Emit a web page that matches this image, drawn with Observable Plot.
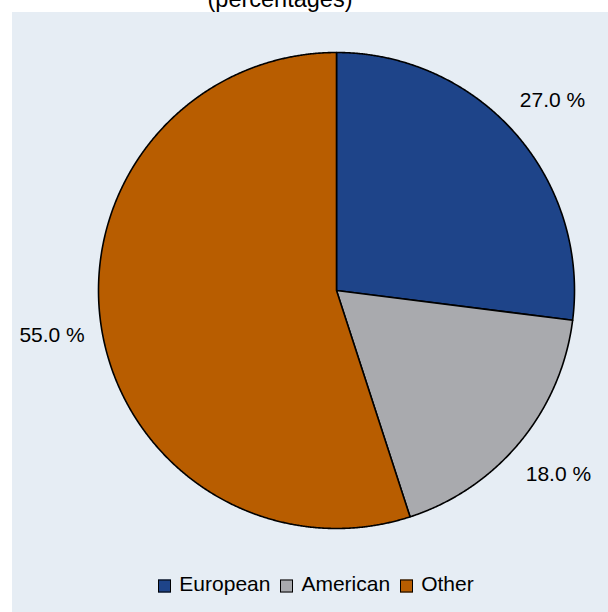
<!DOCTYPE html>
<html>
<head>
<meta charset="utf-8">
<script src="https://cdn.jsdelivr.net/npm/d3@7"></script>
<script src="https://cdn.jsdelivr.net/npm/@observablehq/plot@0.6"></script>
<style>
  html, body { margin: 0; padding: 0; background: #ffffff; }
  body { width: 608px; height: 612px; overflow: hidden; font-family: "Liberation Sans", Arial, sans-serif; }
  #title { position: relative; height: 12px; overflow: hidden; }
  #title span { position: absolute; left: 0; width: 560px; top: -13px; text-align: center; font-size: 23.5px; line-height: 24px; color: #000; white-space: nowrap; }
  #panel { margin-left: 12px; width: 596px; height: 600px; background: #e6edf4; }
  #legend { display: flex; align-items: center; justify-content: center; padding-left: 12px; height: 24px; line-height: 24px; font-size: 21px; color: #000; }
  .sw { width: 13px; height: 13px; box-sizing: border-box; border: 1.6px solid #000; margin-right: 8px; transform: translateY(1.5px); }
  .lab { margin-right: 10px; }
  .lab:last-child { margin-right: 0; }
</style>
</head>
<body>
<div id="title"><span>(percentages)</span></div>
<div id="panel"><div id="chart"></div><div id="legend"></div></div>
<script>
const categories = ["European", "American", "Other"];
const values = [27.0, 18.0, 55.0];
const colors = ["#1e4489", "#a9aaae", "#b85d00"];
const labels = values.map(v => v.toFixed(1) + " %");

const total = d3.sum(values);
const slicePoints = [];
const labelRows = [];
let acc = 0;
categories.forEach((name, i) => {
  const a0 = acc / total * 2 * Math.PI;
  acc += values[i];
  const a1 = acc / total * 2 * Math.PI;
  slicePoints.push({name, x: 0, y: 0});
  const n = Math.max(2, Math.ceil((a1 - a0) / (Math.PI / 720)));
  for (let k = 0; k <= n; k++) {
    const a = a0 + (a1 - a0) * k / n;
    slicePoints.push({name, x: Math.sin(a), y: Math.cos(a)});
  }
  const am = (a0 + a1) / 2;
  labelRows.push({label: labels[i], x: 1.21 * Math.sin(am), y: 1.21 * Math.cos(am)});
});

const plot = Plot.plot({
  width: 596,
  height: 560,
  marginLeft: 86,
  marginRight: 34,
  marginTop: 40,
  marginBottom: 44,
  x: {domain: [-1, 1], axis: null},
  y: {domain: [-1, 1], axis: null},
  color: {domain: categories, range: colors},
  style: {background: "transparent", fontFamily: "'Liberation Sans', Arial, sans-serif", overflow: "visible"},
  marks: [
    Plot.line(slicePoints, {x: "x", y: "y", z: "name", fill: "name", stroke: "#000", strokeWidth: 1.6, curve: "linear-closed", strokeLinejoin: "round"}),
    Plot.text(labelRows, {x: "x", y: "y", text: "label", fontSize: 21, fill: "#000", textAnchor: "middle", clip: false})
  ]
});
document.getElementById("chart").appendChild(plot);

const legend = document.getElementById("legend");
categories.forEach((name, i) => {
  const sw = document.createElement("div");
  sw.className = "sw";
  sw.style.background = colors[i];
  const t = document.createElement("span");
  t.className = "lab";
  t.textContent = name;
  legend.appendChild(sw);
  legend.appendChild(t);
});
</script>
</body>
</html>
